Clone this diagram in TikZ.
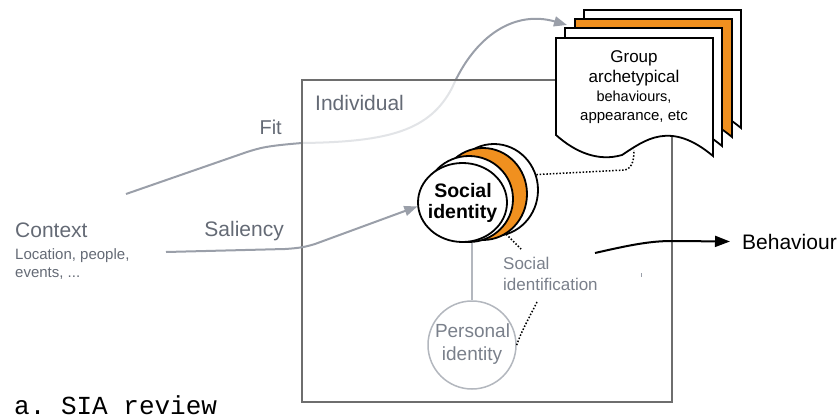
\documentclass[tikz,border=0pt]{standalone}
\usepackage{fontspec}
\setmainfont{Liberation Sans}
\setmonofont{Liberation Mono}
\usetikzlibrary{arrows.meta,shapes.geometric}
\definecolor{txtgray}{HTML}{646A75}
\definecolor{lightgray}{HTML}{7A808B}
\definecolor{linegray}{HTML}{9A9FA9}
\definecolor{boxgray}{HTML}{6E6E6E}
\definecolor{pgray}{HTML}{B3B7BE}
\definecolor{orng}{HTML}{F0901F}
\newcommand\fs[1]{\fontsize{#1}{#1}\selectfont}
\begin{document}
\begin{tikzpicture}[x=1pt,y=-1pt,
  lbl/.style={inner sep=0pt, text=txtgray},
  doc/.style={draw=black, line width=1.8pt, line join=miter},
  circ/.style={ellipse, draw=black, line width=1.8pt, inner sep=0pt},
  garrow/.style={draw=linegray, line width=2pt, -{Triangle[length=13pt,width=10pt]}},
  barrow/.style={draw=black, line width=2pt, -{Triangle[length=15pt,width=11pt]}},
  dots/.style={draw=black, line width=1.5pt, dash pattern=on 1.5pt off 1.8pt}
]
\useasboundingbox (0,0) rectangle (840,420);
% Fit arrow (drawn first so box fades it)
\coordinate (fitstart) at (126,194);
\coordinate (fitend) at (567,25);
\draw[garrow] (fitstart) -- (247,152) .. controls (260,148) and (265,146) .. (302,143)
  .. controls (390,142) and (430,130) .. (452,88) .. controls (475,35) and (515,10) .. (fitend);
% Individual box
\node[draw=boxgray, line width=1.5pt, fill=white, fill opacity=0.72, minimum width=370pt, minimum height=322pt, inner sep=0pt] (box) at (487,241) {};
\node[lbl, anchor=base west, font=\fs{21}] (indiv) at (315,110) {Individual};
% Documents
\foreach \px/\py/\fc in {584/10/white, 575/19/orng, 565/28/white, 556/38/white}{
  \begin{scope}[shift={(\px,\py)}]
    \path[doc, fill=\fc] (0,0) -- (157,0) -- (157,118) .. controls (114,82) and (89,102) .. (66,117)
      .. controls (42,124) and (19,114) .. (0,97) -- cycle;
  \end{scope}
}
\node[inner sep=0pt, anchor=base, font=\fs{17}] (grp1) at (634,63) {Group};
\node[inner sep=0pt, anchor=base, font=\fs{17}] (grp2) at (634,82.5) {archetypical};
\node[inner sep=0pt, anchor=base, font=\fs{14.5}] (grp3) at (634,101.5) {behaviours,};
\node[inner sep=0pt, anchor=base, font=\fs{15}] (grp4) at (634,120) {appearance, etc};
\coordinate (docbot) at (634,150);
% Social identity circles
\node[circ, fill=white, minimum width=88pt, minimum height=92pt] (soc4) at (494,190) {};
\node[circ, fill=orng, minimum width=88pt, minimum height=92pt] (soc3) at (483,194) {};
\node[circ, fill=white, minimum width=88pt, minimum height=86pt] (soc2) at (469,199) {};
\node[circ, fill=white, minimum width=89pt, minimum height=79pt] (soc) at (462.5,202.5) {};
\node[inner sep=0pt, anchor=base, font=\bfseries\fs{19.5}] (soct1) at (463,197) {Social};
\node[inner sep=0pt, anchor=base, font=\bfseries\fs{19.5}] (soct2) at (462.5,218) {identity};
% Personal identity
\node[circle, draw=pgray, line width=1.5pt, fill=white, minimum size=88pt, inner sep=0pt] (per) at (472,345) {};
\node[inner sep=0pt, anchor=base, text=lightgray, font=\fs{19}] (pert1) at (472.5,337) {Personal};
\node[inner sep=0pt, anchor=base, text=lightgray, font=\fs{19}] (pert2) at (472,360) {identity};
\draw[draw=pgray, line width=1.8pt] (per.north |- soc.south) -- (per.north);
% Dotted connectors
\draw[dots] (soc4.20) -- (625,170) .. controls (633,168) and (634,158) .. (docbot);
\coordinate (sidot) at (521,249);
\draw[dots] (soc3.-60) -- (sidot);
\coordinate (sidot2) at (537,302);
\draw[dots] (sidot2) .. controls (528,320) and (521,332) .. (per.east);
\node[inner sep=0pt, anchor=base west, text=lightgray, font=\fs{17}] (sid1) at (503,269) {Social};
\node[inner sep=0pt, anchor=base west, text=lightgray, font=\fs{17}] (sid2) at (503,290) {identification};
% Context & Saliency
\node[lbl, anchor=base west, font=\fs{21}] (ctx) at (15,237) {Context};
\node[lbl, anchor=base west, font=\fs{15}] (ctx2) at (15,259) {Location, people,};
\node[lbl, anchor=base west, font=\fs{15}] (ctx3) at (15,277) {events, ...};
\node[lbl, anchor=base east, font=\fs{20}] (fit) at (282,134) {Fit};
\node[lbl, anchor=base east, font=\fs{21}] (sal) at (284,236) {Saliency};
\coordinate (salstart) at (166,252);
\draw[garrow] (salstart) -- (285,249) .. controls (300,248) and (305,247) .. (315,244) -- (soc.185);
% Behaviour
\node[inner sep=0pt, anchor=base west, font=\fs{21}] (beh) at (742,249) {Behaviour};
\coordinate (behstart) at (595,253);
\draw[barrow] (behstart) .. controls (630,245) and (650,241) .. (672,241) -- ([xshift=-12pt]beh.west);
\coordinate (tickA) at (641,273);
\coordinate (tickB) at (641,277);
\draw[draw=linegray, line width=1pt] (tickA) -- (tickB);
% Caption
\node[inner sep=0pt, anchor=base west, font=\ttfamily\fs{26}] (cap) at (14,414) {a. SIA review};
\end{tikzpicture}
\end{document}
